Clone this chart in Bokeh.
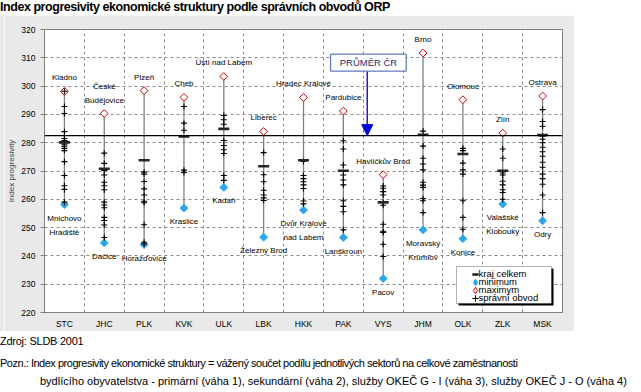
import math
from bokeh.plotting import figure
from bokeh.models import (Range1d, FixedTicker, Span, Label, Arrow, NormalHead,
                          Legend, LegendItem, Div, BoxAnnotation, Spacer)
from bokeh.layouts import column, row
from bokeh.core.properties import value
from bokeh.embed import file_html
from bokeh.resources import INLINE

# ---------------- data ----------------
kraje = ["STC", "JHC", "PLK", "KVK", "ULK", "LBK", "HKK", "PAK", "VYS", "JHM", "OLK", "ZLK", "MSK"]
kraj_celkem = [280.1, 270.8, 273.8, 282.2, 284.9, 271.7, 273.8, 270.1, 258.9, 282.8, 276.0, 270.1, 282.7]
minimum = [258.1, 244.6, 244.0, 256.9, 264.2, 246.6, 256.2, 246.5, 232.0, 249.2, 246.1, 258.3, 252.4]
maximum = [298.1, 290.3, 298.4, 296.0, 303.4, 284.0, 296.0, 291.2, 268.7, 311.7, 295.2, 283.4, 296.5]
max_nazvy = ["Kladno", "České\nBudějovice", "Plzeň", "Cheb", "Ústí nad Labem", "Liberec",
             "Hradec Králové", "Pardubice", "Havlíčkův Brod", "Brno", "Olomouc", "Zlín", "Ostrava"]
min_nazvy = ["Mnichovo\nHradiště", "Dačice", "Horažďovice", "Kraslice", "Kadaň", "Železný Brod",
             "Dvůr Králové\nnad Labem", "Lanškroun", "Pacov", "Moravský\nKrumlov", "Konice",
             "Valašské\nKlobouky", "Odry"]
legenda = ["kraj celkem", "minimum", "maximym", "správní obvod"]
prumer_cr = 282.5
y_ticks = [220, 230, 240, 250, 260, 270, 280, 290, 300, 310, 320]

obvody_STC = [298.2, 292.8, 290.3, 283.9, 281.5, 280.8, 280.2, 279.5, 278.8, 278.0, 277.2, 273.3, 268.4, 264.8, 263.5, 259.0]
obvody_JHC = [276.3, 272.7, 270.2, 268.6, 266.0, 264.8, 263.4, 259.0, 258.0, 257.0, 253.6, 252.5, 250.9, 246.5]
obvody_PLK = [269.6, 268.9, 266.3, 263.7, 261.5, 259.3, 258.8, 251.0, 244.8, 244.2]
obvody_KVK = [292.8, 286.9, 284.4, 270.3, 269.5]
obvody_ULK = [289.6, 288.1, 286.5, 280.8, 279.0, 277.5, 276.2, 268.4, 266.7]
obvody_LBK = [276.5, 268.7, 266.2, 263.2, 261.5, 260.5, 259.6]
obvody_HKK = [273.4, 268.4, 267.3, 266.2, 265.1, 263.8, 259.4, 258.4]
obvody_PAK = [280.7, 277.8, 272.1, 268.6, 266.8, 265.1, 259.5, 257.5, 255.6, 249.2]
obvody_VYS = [264.7, 263.9, 262.7, 261.5, 258.9, 257.9, 251.2, 248.7, 248.3, 244.1, 239.8]
obvody_JHM = [284.1, 278.8, 274.5, 272.5, 270.4, 266.0, 265.0, 264.2, 260.3, 259.5, 255.3]
obvody_OLK = [278.0, 277.2, 272.8, 270.4, 268.9, 259.5, 253.6, 249.4]
obvody_ZLK = [277.8, 274.5, 269.3, 268.6, 266.4, 265.1, 263.4, 262.4, 260.0]
obvody_MSK = [291.7, 287.5, 285.8, 282.3, 281.2, 280.0, 278.4, 276.8, 275.2, 273.1, 271.3, 268.9, 267.3, 265.3, 261.5, 255.3]
obvody = [obvody_STC, obvody_JHC, obvody_PLK, obvody_KVK, obvody_ULK, obvody_LBK, obvody_HKK,
          obvody_PAK, obvody_VYS, obvody_JHM, obvody_OLK, obvody_ZLK, obvody_MSK]

# ---------------- figure ----------------
FONT = "Liberation Sans"
SANS = "'Liberation Sans', Arial, sans-serif"
GRAY = "#e9e9e9"
PAD_LEFT = 4
xpos = list(range(1, len(kraje) + 1))

p = figure(width=574 - PAD_LEFT, height=316, x_range=Range1d(0.5, len(kraje) + 0.5),
           y_range=Range1d(220, 320), output_backend="svg", toolbar_location=None,
           min_border_left=0, min_border_right=12, min_border_top=14, min_border_bottom=19,
           background_fill_color="white", border_fill_color=GRAY,
           outline_line_color="#808080", outline_line_width=1)

# grid
p.xgrid.ticker = FixedTicker(ticks=[x + 0.5 for x in xpos[:-1]])
p.ygrid.ticker = FixedTicker(ticks=y_ticks[1:-1])
for g in (p.xgrid, p.ygrid):
    g.grid_line_color = "#8a8a8a"
    g.grid_line_dash = "3 3"
    g.grid_line_width = 1

# axes
p.xaxis.ticker = FixedTicker(ticks=xpos)
p.xaxis.major_label_overrides = {x: k for x, k in zip(xpos, kraje)}
p.yaxis.ticker = FixedTicker(ticks=y_ticks)
for ax in (p.xaxis, p.yaxis):
    ax.axis_line_color = "#808080"
    ax.major_tick_line_color = "#808080"
    ax.minor_tick_line_color = None
    ax.major_tick_in = 0
    ax.major_label_text_font = FONT
    ax.major_label_text_color = "black"
p.xaxis.major_tick_out = 0
p.xaxis.major_label_standoff = 6
p.xaxis.major_label_text_font_size = "8.5px"
p.yaxis.major_tick_out = 4
p.yaxis.major_label_standoff = 5
p.yaxis.major_label_text_font_size = "8.5px"
p.yaxis.axis_label = "Index progresivity"
p.yaxis.axis_label_text_font = FONT
p.yaxis.axis_label_text_font_size = "8px"
p.yaxis.axis_label_text_font_style = "normal"
p.yaxis.axis_label_standoff = 2

# stems
p.segment(x0=xpos, y0=minimum, x1=xpos, y1=maximum, line_color="#808080", line_width=1.3)

# markers (the plain "diamond" renderers sit under the rotated squares and feed the legend)
MAX_STYLE = dict(fill_color="white", line_color="#cc0000", line_width=1)
MIN_STYLE = dict(fill_color="#29a6ec", line_color="#29a6ec", line_width=1)
r_max_leg = p.scatter(x=xpos, y=maximum, marker="diamond", size=5, **MAX_STYLE)
r_min_leg = p.scatter(x=xpos, y=minimum, marker="diamond", size=5, **MIN_STYLE)
p.scatter(x=xpos, y=maximum, marker="square", angle=math.pi / 4, size=5.5, **MAX_STYLE)
p.scatter(x=xpos, y=minimum, marker="square", angle=math.pi / 4, size=5.5, **MIN_STYLE)
px = [x for x, vals in zip(xpos, obvody) for _ in vals]
py = [v for vals in obvody for v in vals]
r_plus = p.scatter(x=px, y=py, marker="cross", size=6, line_color="black", line_width=1.1)
r_kraj = p.scatter(x=xpos, y=kraj_celkem, marker="dash", size=11, line_color="#262626", line_width=2.6)

# average line
p.add_layout(Span(location=prumer_cr, dimension="width", line_color="black", line_width=1.3))

# city labels
p.text(x=xpos, y=maximum, text=max_nazvy, text_align="center", text_baseline="bottom",
       y_offset=-9, text_font=value(FONT), text_font_size="8px", text_line_height=1.55,
       text_color="black")
p.text(x=xpos, y=minimum, text=min_nazvy, text_align="center", text_baseline="top",
       y_offset=9, text_font=value(FONT), text_font_size="8px", text_line_height=1.55,
       text_color="black")

# PRŮMĚR ČR annotation
p.add_layout(Label(x=8.63, y=308.3, text="PRŮMĚR ČR", text_align="center", text_baseline="middle",
                   text_font=FONT, text_font_size="9.5px", text_color="#1f2f6f",
                   border_line_color="#3b5cad", border_line_width=1,
                   background_fill_color="white",
                   padding=dict(left=9, right=9, top=3, bottom=3)))
p.add_layout(Arrow(x_start=8.6, y_start=305.1, x_end=8.6, y_end=prumer_cr,
                   line_color="#2020c0", line_width=1.5,
                   end=NormalHead(size=11, fill_color="#0000dd", line_color="#0000dd")))

# legend: shadow, box, swatches, texts (screen units, relative to the plot frame)
LX, LB, LW, LH = 412, 9, 95, 37
p.add_layout(BoxAnnotation(left=LX + 2, right=LX + LW + 2, bottom=LB - 2, top=LB + LH - 2,
                           left_units="screen", right_units="screen",
                           bottom_units="screen", top_units="screen",
                           fill_color="black", fill_alpha=1, line_color=None))
p.add_layout(BoxAnnotation(left=LX, right=LX + LW, bottom=LB, top=LB + LH,
                           left_units="screen", right_units="screen",
                           bottom_units="screen", top_units="screen",
                           fill_color="white", fill_alpha=1, line_color="black", line_width=1))
swatches = [r_kraj, r_min_leg, r_max_leg, r_plus]
for i, (rend, txt) in enumerate(zip(swatches, legenda)):
    cy = LB + LH - 6.5 - 8 * i
    p.add_layout(Legend(items=[LegendItem(label=" ", renderers=[rend])],
                        location=(LX + 19 - 9, cy - 9), orientation="vertical", margin=0,
                        padding=0, glyph_width=18, glyph_height=16, label_height=16,
                        label_standoff=0, spacing=0, label_width=0,
                        border_line_color=None, background_fill_alpha=0,
                        label_text_font_size="1px"))
    p.add_layout(Label(x=LX + 22, y=cy, x_units="screen", y_units="screen", text=txt,
                       text_align="left", text_baseline="middle", text_font=FONT,
                       text_font_size="9.5px", text_color="black"))

# ---------------- texts ----------------
title = Div(text="Index progresivity ekonomické struktury podle správních obvodů ORP",
            width=625, height=15, margin=0,
            styles={"font-family": SANS, "font-weight": "bold", "font-size": "12.5px",
                    "letter-spacing": "-0.45px", "line-height": "15px", "color": "black",
                    "white-space": "nowrap"})

foot_html = (
    '<div style="line-height:20px;letter-spacing:-0.25px">Zdroj: SLDB 2001</div>'
    '<div style="line-height:24px;letter-spacing:-0.48px">Pozn.: Index progresivity ekonomické '
    'struktury = vážený součet podílu jednotlivých sektorů na celkové zaměstnanosti</div>'
    '<div style="line-height:12px;padding-left:40px">bydlícího obyvatelstva - primární (váha 1), '
    'sekundární (váha 2), služby OKEČ G - I (váha 3), služby OKEČ J - O (váha 4)</div>'
)
foot = Div(text=foot_html, width=625, height=52, margin=0,
           styles={"font-family": SANS, "font-size": "11px", "color": "black",
                   "white-space": "nowrap"})

pad = Spacer(width=PAD_LEFT, height=316, margin=0, styles={"background-color": GRAY})
chart = row(pad, p, spacing=0)
layout = column(title, chart, foot, spacing=0)
open("out.html", "w").write(file_html(layout, INLINE))
